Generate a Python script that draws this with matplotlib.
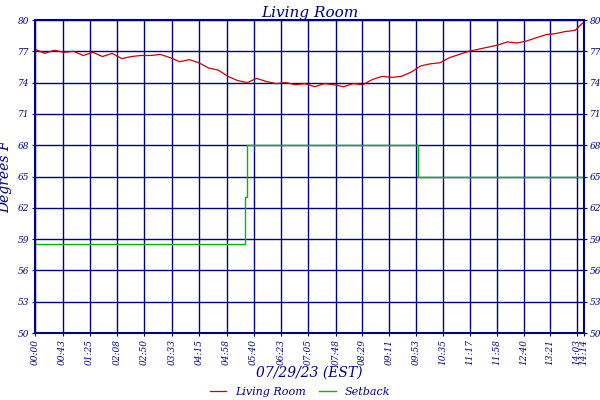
import matplotlib
matplotlib.use("Agg")
import matplotlib.pyplot as plt

tick_labels = ["00:00","00:43","01:25","02:08","02:50","03:33","04:15","04:58","05:40","06:23",
               "07:05","07:48","08:29","09:11","09:53","10:35","11:17","11:58","12:40","13:21","14:03","14:14"]
temp_min = list(range(0, 855, 15)) + [850, 854]
temp_min = sorted(set(temp_min))
temp_val = [77.2,76.8,77.1,76.9,77.0,76.6,76.9,76.5,76.8,76.3,76.5,76.6,76.6,76.7,76.4,76.0,76.2,75.9,
            75.4,75.2,74.6,74.2,74.0,74.4,74.1,73.9,74.0,73.8,73.9,73.6,73.9,73.8,73.6,73.9,73.8,74.3,
            74.6,74.5,74.6,75.0,75.6,75.8,75.9,76.4,76.7,77.0,77.2,77.4,77.6,77.9,77.8,78.0,78.3,78.6,
            78.7,78.9,79.0,79.6,79.8]
set_min = [0, 326, 327, 329, 596, 854]
set_val = [58.5, 58.5, 63.0, 68.0, 65.0, 65.0]

def tomin(s):
    h, m = s.split(":")
    return int(h) * 60 + int(m)

navy = "#000080"
font = {"family": "DejaVu Serif", "style": "italic"}
fig = plt.figure(figsize=(6, 4), dpi=100)
ax = fig.add_axes([35/600, 67/400, 549/600, 313/400])
n = min(len(temp_min), len(temp_val))
ax.plot(temp_min[:n], temp_val[:n], color="#cc0000", lw=0.9, label="Living Room")
ax.step(set_min, set_val, where="post", color="#00bb00", lw=1.0, label="Setback")
ax.set_xlim(0, 854)
ax.set_ylim(50, 80)
yt = list(range(50, 81, 3))
ax.set_yticks(yt)
ax.set_yticklabels([str(v) for v in yt], color=navy, fontsize=6.5, **font)
ax.set_xticks([tomin(s) for s in tick_labels])
ax.set_xticklabels(tick_labels, rotation=90, color=navy, fontsize=6.5, **font)
ax.tick_params(axis="y", which="both", right=True, labelright=True, length=2, color=navy, pad=2)
ax.tick_params(axis="x", length=2, color=navy, pad=2)
ax.grid(True, color=navy, lw=1.0)
ax.set_axisbelow(True)
for s in ax.spines.values():
    s.set_color(navy)
    s.set_linewidth(1.5)
ax.set_title("Living Room", color=navy, fontsize=11, pad=2, **font)
ax.set_ylabel("Degrees F", color=navy, fontsize=10, labelpad=4, **font)
ax.set_xlabel("07/29/23 (EST)", color=navy, fontsize=10, labelpad=1, **font)
leg = fig.legend(loc="center", bbox_to_anchor=(0.5, 8/400), ncol=2, frameon=False,
                 prop={"family": "DejaVu Serif", "style": "italic", "size": 8}, handlelength=1.5,
                 borderpad=0, columnspacing=1.2)
for t in leg.get_texts():
    t.set_color(navy)
fig.savefig("out.png", dpi=100)
